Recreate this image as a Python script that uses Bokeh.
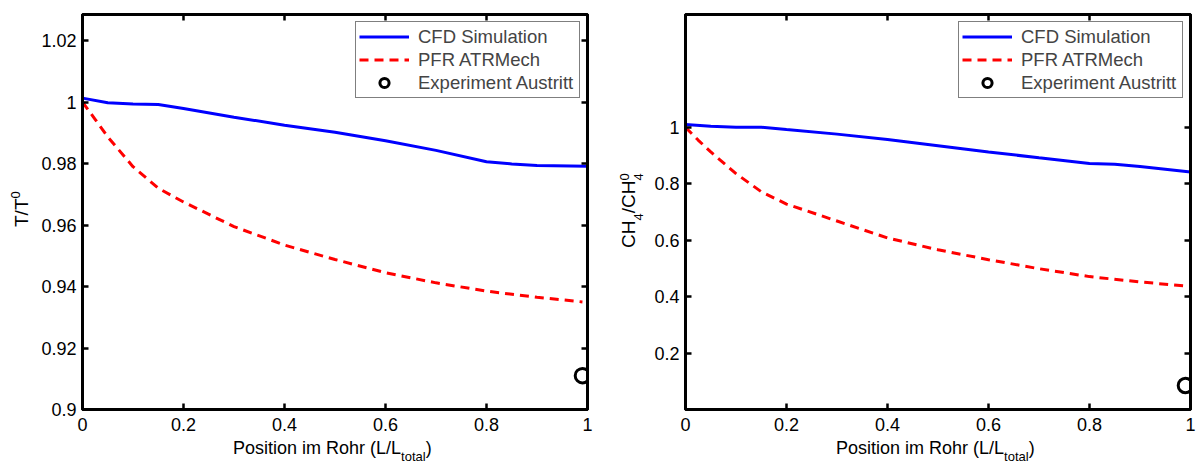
from bokeh.plotting import figure
from bokeh.models import (Range1d, LinearAxis, FixedTicker, Legend, LegendItem,
                          CustomJSTickFormatter, Div)
from bokeh.layouts import row, column
from bokeh.embed import file_html
from bokeh.resources import INLINE

# ---------------- data ----------------
x_cfd = [0, 0.05, 0.1, 0.15, 0.2, 0.3, 0.4, 0.5, 0.6, 0.7, 0.8, 0.85, 0.9, 1.0]
t_cfd = [1.0013, 0.9998, 0.9994, 0.9992, 0.9979, 0.9951, 0.9925, 0.9902,
         0.9874, 0.9843, 0.9806, 0.9799, 0.9794, 0.9791]
ch4_cfd = [1.010, 1.004, 1.000, 1.0005, 0.992, 0.976, 0.957, 0.935,
           0.913, 0.892, 0.872, 0.869, 0.861, 0.842]

x_pfr = [0, 0.025, 0.05, 0.1, 0.15, 0.2, 0.3, 0.4, 0.5, 0.6, 0.7, 0.8, 0.9, 0.99]
t_pfr = [1.0, 0.9944, 0.9887, 0.979, 0.972, 0.9675, 0.9595, 0.9535,
         0.9488, 0.9445, 0.9412, 0.9385, 0.9365, 0.935]
ch4_pfr = [1.0, 0.955, 0.913, 0.836, 0.772, 0.728, 0.668, 0.608,
           0.566, 0.531, 0.499, 0.471, 0.452, 0.438]

x_exp = [0.99]
t_exp = [0.911]
ch4_exp = [0.085]

x_ticks = [0, 0.2, 0.4, 0.6, 0.8, 1]
x_tick_labels = ["0", "0.2", "0.4", "0.6", "0.8", "1"]
t_ticks = [0.9, 0.92, 0.94, 0.96, 0.98, 1.0, 1.02]
t_tick_labels = ["0.9", "0.92", "0.94", "0.96", "0.98", "1", "1.02"]
ch4_ticks = [0.2, 0.4, 0.6, 0.8, 1.0]
ch4_tick_labels = ["0.2", "0.4", "0.6", "0.8", "1"]
t_range = (0.9, 1.0285)
ch4_range = (0.0, 1.4)

legend_labels = ["CFD Simulation", "PFR ATRMech", "Experiment Austritt"]
x_label_parts = ["Position im Rohr (L/L", "total", ")"]
t_label_parts = ["T/T", "0"]
ch4_label_parts = ["CH", "4", "/CH", "4", "0"]

FONT = "Liberation Sans"
FRAME_W, FRAME_H = 505, 395
TOP_B, BOT_B = 14, 30
TOTAL_H = 464
XLAB_H = TOTAL_H - (TOP_B + FRAME_H + BOT_B)
TXT = f"font-family:'{FONT}'; color:#000; white-space:nowrap;"


def lookup_formatter(tvals, tlabs):
    return CustomJSTickFormatter(args=dict(tvals=tvals, tlabs=tlabs), code="""
        for (let i = 0; i < tvals.length; i++) {
            if (Math.abs(tvals[i] - tick) < 1e-9) return tlabs[i];
        }
        return '';
    """)


def style_axis(ax, labelled):
    ax.axis_line_color = "black"
    ax.axis_line_width = 3
    ax.major_tick_in = 6
    ax.major_tick_out = 0
    ax.major_tick_line_width = 2.5
    ax.major_tick_line_color = "black"
    ax.minor_tick_line_color = None
    ax.major_label_text_font = FONT
    ax.major_label_text_font_size = "18px"
    ax.major_label_text_color = "black"
    if not labelled:
        ax.major_label_standoff = 0


def box_div(w, h, inner):
    html = (f'<div style="position:relative; width:{w}px; height:{h}px; overflow:visible;">'
            f'{inner}</div>')
    return Div(text=html, width=w, height=h, margin=0)


def make_panel(y_cfd, y_pfr, y_exp, y_range, y_ticks, y_tick_labels, b_left, b_right):
    p = figure(width=b_left + FRAME_W + b_right, height=TOP_B + FRAME_H + BOT_B,
               x_range=Range1d(0, 1), y_range=Range1d(*y_range), title=None,
               output_backend="svg", toolbar_location=None,
               min_border_left=b_left, min_border_right=b_right,
               min_border_top=TOP_B, min_border_bottom=BOT_B)
    p.xgrid.visible = False
    p.ygrid.visible = False
    p.outline_line_color = "black"
    p.outline_line_width = 3
    p.background_fill_color = "white"
    p.border_fill_color = "white"

    p.xaxis.ticker = FixedTicker(ticks=x_ticks)
    p.xaxis.formatter = lookup_formatter(x_ticks, x_tick_labels)
    p.yaxis.ticker = FixedTicker(ticks=y_ticks)
    p.yaxis.formatter = lookup_formatter(y_ticks, y_tick_labels)
    style_axis(p.xaxis[0], True)
    style_axis(p.yaxis[0], True)
    p.xaxis.major_label_standoff = 8
    p.yaxis.major_label_standoff = 6

    top = LinearAxis(ticker=FixedTicker(ticks=x_ticks), formatter=CustomJSTickFormatter(code="return ''"))
    right = LinearAxis(ticker=FixedTicker(ticks=y_ticks), formatter=CustomJSTickFormatter(code="return ''"))
    style_axis(top, False)
    style_axis(right, False)
    p.add_layout(top, "above")
    p.add_layout(right, "right")

    r_cfd = p.line(x_cfd, y_cfd, line_color="#0000ff", line_width=3)
    r_pfr = p.line(x_pfr, y_pfr, line_color="#ff0000", line_width=3, line_dash="9 6")
    r_exp = p.scatter(x_exp, y_exp, marker="circle", size=14.5, fill_color=None,
                      line_color="black", line_width=3)

    legend = Legend(items=[LegendItem(label=legend_labels[0], renderers=[r_cfd]),
                           LegendItem(label=legend_labels[1], renderers=[r_pfr]),
                           LegendItem(label=legend_labels[2], renderers=[r_exp])],
                    location="top_right", margin=7, padding=3, spacing=0,
                    glyph_width=50, glyph_height=23, label_height=23, label_width=158,
                    label_standoff=9, label_text_font=FONT, label_text_font_size="18.5px",
                    border_line_color="black", border_line_width=1,
                    background_fill_color="white", background_fill_alpha=1)
    p.add_layout(legend)

    # x axis label (with subscript) in a strip below the panel
    w = b_left + FRAME_W + b_right
    inner = (f'<div style="position:absolute; left:{b_left + 151}px; top:0px; {TXT} '
             f'font-size:18px; line-height:18px;">{x_label_parts[0]}'
             f'<span style="font-size:13px; position:relative; top:7px;">{x_label_parts[1]}</span>'
             f'{x_label_parts[2]}</div>')
    return column(p, box_div(w, XLAB_H, inner))


def rotated(left, top, content):
    return (f'<div style="position:absolute; left:{left}px; top:{top}px; '
            f'transform-origin:0 0; transform:rotate(-90deg); {TXT} '
            f'font-size:19px; line-height:19px;">{content}</div>')


# left y label: T/T^0  (baseline near x=28, starting at y=227)
yl1 = box_div(38, TOTAL_H, rotated(12, 227,
              f'{t_label_parts[0]}<span style="font-size:13px; position:relative; top:-8px;">'
              f'{t_label_parts[1]}</span>'))
panel1 = make_panel(t_cfd, t_pfr, t_exp, t_range, t_ticks, t_tick_labels, 44, 13)

# right y label: CH_4/CH_4^0  (baseline near x=635, starting at y=248)
SUB = 'font-size:13px; position:relative; top:8px;'
yl2 = box_div(48, TOTAL_H, rotated(19, 248,
              f'{ch4_label_parts[0]}<span style="{SUB}">{ch4_label_parts[1]}</span>'
              f'{ch4_label_parts[2]}<span style="{SUB}">{ch4_label_parts[3]}'
              f'<span style="position:absolute; left:0; top:-16px;">{ch4_label_parts[4]}</span></span>'))
panel2 = make_panel(ch4_cfd, ch4_pfr, ch4_exp, ch4_range, ch4_ticks, ch4_tick_labels, 37, 10)

layout = row(yl1, panel1, yl2, panel2)
open("out.html", "w").write(file_html(layout, INLINE))
